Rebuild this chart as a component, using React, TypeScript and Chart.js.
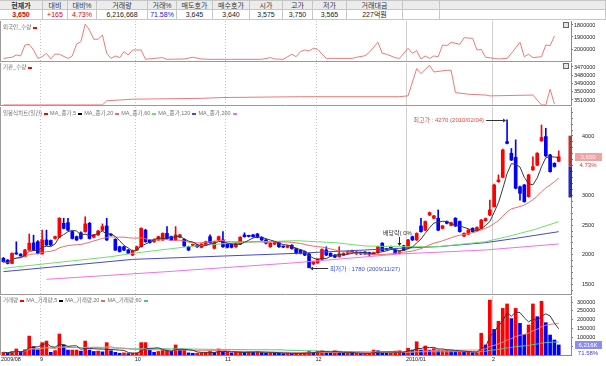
import React, { useEffect, useRef } from 'react';
import { Chart, registerables } from 'chart.js';
Chart.register(...registerables);

// ---------------- data ----------------
const opens = [1940,1910,1855,2030,2010,1970,2080,2200,2220,2015, 2250,2240,2275,2295,2530,2540,2390,2305,2370,2390, 2530,2295,2335,2415,2485,2340,2260,2135,2135,2080, 1995,2080,2135,2415,2250,2220,2250,2250,2360,2305, 2250,2295,2260,2135,2160,2165,2125,2165,2305,2110, 2250,2250,2180,2180,2135,2180,2335,2320,2335,2350, 2295,2250,2135,2180,2205,2140,2125,2160,2105,2080, 2055,2015,1845,1865,1925,2080,2025,1995,1970,1995, 2025,2035,2015,2035,2045,2035,2015,2035,2195,2095, 2135,2080,2025,2150,2110,2305,2250,2485,2415,2670, 2615,2615,2445,2560,2495,2615,2560,2315,2350,2445, 2415,2445,2575,2670,2810,3230,3305,3905,3710,3640, 3145,3175,2980,3430,3510,3920,3990,3680,3540,3575];
const highs = [1955,1920,2035,2220,2020,2090,2350,2330,2240,2415, 2415,2250,2315,2625,2615,2615,2400,2315,2385,2640, 2545,2345,2410,2520,2615,2345,2270,2145,2145,2090, 2080,2145,2455,2430,2260,2270,2315,2370,2475,2315, 2475,2345,2270,2145,2180,2175,2190,2230,2335,2230, 2315,2390,2190,2190,2205,2305,2370,2330,2345,2360, 2305,2260,2205,2215,2215,2150,2160,2170,2115,2090, 2065,2025,1895,1935,2100,2135,2035,2005,2135,2035, 2065,2080,2055,2045,2055,2045,2045,2145,2205,2105, 2145,2090,2065,2160,2260,2315,2370,2615,2570,2720, 2665,2755,2495,2570,2550,2625,2570,2370,2425,2455, 2470,2595,2620,2920,3190,3345,3780,4270,3790,3935, 3155,3185,3355,3650,3720,4185,4130,3690,3550,3750];
const lows = [1875,1845,1850,2005,1975,1965,2075,2070,2015,2010, 2155,2155,2265,2285,2435,2405,2265,2240,2265,2380, 2265,2285,2325,2405,2240,2320,2070,2045,2070,2015, 1985,2070,2130,2210,2195,2210,2240,2240,2265,2240, 2240,2285,2140,2070,2150,2125,2115,2155,2195,2100, 2240,2125,2115,2115,2125,2170,2295,2300,2295,2285, 2240,2185,2125,2170,2125,2120,2115,2095,2015,2015, 1985,1780,1835,1855,1915,1985,1970,1950,1960,1985, 2015,2025,2005,2005,2005,1990,2005,2025,2060,2080, 2100,2015,2015,2070,2100,2240,2240,2380,2405,2660, 2605,2405,2435,2520,2485,2475,2380,2305,2340,2380, 2405,2435,2565,2660,2800,3220,3295,3865,3585,3110, 2920,2885,2970,3420,3500,3910,3655,3390,3475,3565];
const closes = [1885,1855,2025,2015,1980,2080,2195,2080,2025,2250, 2165,2165,2305,2615,2445,2415,2275,2250,2275,2520, 2275,2335,2400,2475,2250,2330,2080,2055,2080,2025, 2070,2135,2445,2220,2205,2260,2305,2360,2275,2250, 2335,2335,2150,2080,2170,2135,2180,2220,2205,2220, 2305,2135,2125,2125,2195,2295,2305,2310,2305,2295, 2250,2195,2195,2205,2135,2130,2150,2105,2025,2025, 1995,1785,1885,1925,2090,1995,1980,1960,2015,2025, 2055,2070,2045,2015,2015,2000,2035,2135,2070,2090, 2110,2025,2055,2080,2250,2250,2360,2390,2560,2710, 2655,2415,2485,2530,2540,2485,2390,2360,2415,2390, 2460,2585,2610,2755,3175,3260,3765,3875,3595,3120, 3035,2895,3345,3485,3710,3975,3665,3400,3485,3650];
const volumes = [15000,12000,20000,34000,15000,30000,107000,47000,30000,70000, 79000,15000,25000,119000,57000,28000,28000,28000,22000,79000, 28000,20000,22000,18000,70000,24000,15000,10000,12000,8000, 10000,12000,70000,70000,28000,15000,20000,28000,28000,20000, 57000,28000,28000,12000,10000,10000,12000,15000,20000,15000, 34000,15000,15000,12000,15000,20000,15000,18000,15000,20000, 15000,12000,15000,12000,10000,8000,10000,8000,10000,10000, 12000,20000,15000,22000,24000,15000,12000,24000,15000,12000, 12000,10000,10000,8000,8000,10000,28000,24000,12000,10000, 12000,22000,24000,15000,38000,28000,75000,28000,51000,28000, 36000,28000,28000,28000,24000,20000,20000,17000,17000,13000, 13000,123000,57000,311000,145000,191000,264000,289000,206000,264000, 179000,117000,170000,289000,217000,304000,183000,113000,85000,57000];

// foreign net holding (index, value)
const foreignIdx = [0,2,3,4,5,6,7,8,9,10,11,12,13,15,16,17,18,19,20,21,22,23,24,25,26,27,28,29,30,32,33,35,37,38,42,44,46,48,53,60,62,63,65,67,68,69,70,71,72,73,75,77,81,82,84,85,87,88,89,91,92,94,95,96,97,98,99,100,101,102,103,104,106,107,109,110,111,112,114,115,117,118,120,121,122,123,125,126,127,128];
const foreignVal = [2078000,2069000,2050000,2058000,1967000,1961000,2008000,2078000,2064000,2036000,2083000,2042000,2044000,2078000,2058000,1958000,1939000,1792000,1842000,1919000,1919000,1883000,2036000,2078000,2058000,2072000,2022000,2050000,2008000,2008000,2086000,2078000,2072000,2086000,2083000,2069000,2083000,2086000,2086000,2086000,2072000,2083000,2086000,2044000,2064000,2022000,2008000,2017000,1994000,2003000,2078000,2078000,2078000,2069000,2056000,2028000,1944000,2036000,2044000,2072000,2078000,1994000,2036000,2014000,2083000,2058000,2078000,2058000,2064000,1967000,1972000,1944000,1961000,1906000,1911000,2008000,2003000,2069000,2078000,2083000,2078000,2036000,1944000,2064000,2044000,2072000,2064000,1967000,1972000,1892000];
// institution holding (index, value)
const instIdx = [0,23,24,30,46,51,69,92,94,96,97,99,100,103,104,105,108,112,113,123,125,126,127,128];
const instVal = [3516000,3516000,3511000,3509000,3508000,3507000,3506000,3506000,3505000,3472000,3478000,3468000,3476000,3474000,3474000,3501000,3503000,3504000,3505000,3504000,3516000,3516000,3497000,3515000];

// long moving averages (index, value)
const ma60Idx = [0,25,30,43,54,61,68,77,84,92,101,112,117,123,129];
const ma60Val = [1772,1968,2025,2137,2204,2221,2238,2204,2148,2137,2137,2221,2305,2417,2558];
const ma120Idx = [0,30,68,92,101,112,119,129];
const ma120Val = [1716,1923,2024,2109,2137,2204,2277,2389];
const ma200Idx = [10,38,68,92,112,129];
const ma200Val = [1587,1716,1867,2013,2081,2182];

const monthLabels = ['2009/08', '9', '10', '11', '12', '2010/01', '2'];
const monthStartIdx = [0, 9, 31, 52, 73, 94, 114];

const foreignTicks = [1800000, 1900000, 2000000];
const instTicks = [3470000, 3480000, 3490000, 3500000, 3510000];
const priceLabelTicks = [1500, 2000, 2500, 3000, 4000];
const volLabelTicks = [100000, 150000, 200000, 250000, 300000];

const tableHeaders = ['현재가', '대비', '대비%', '거래량', '거래%', '매도호가', '매수호가', '시가', '고가', '저가', '거래대금', '', ''];
const tableValues = ['3,650', '+165', '4.73%', '6,216,668', '71.58%', '3,645', '3,640', '3,575', '3,750', '3,565', '227억원', '', ''];

const highDate = '2010/02/04';
const lowDate = '2009/11/27';
const dividendIdx = 92;
const dividendLabel = '배당락( 0%';
const upperLimit = 4005;
const lowerLimit = 2965;
const changePct = '4.73%';
const dayVolume = 6216668;
const turnoverPct = '71.58%';

const priceLegend = ['일봉식차트(일간)', 'MA_종가,5', 'MA_종가,20', 'MA_종가,60', 'MA_종가,120', 'MA_종가,200'];
const volLegend = ['거래량', 'MA_거래량,5', 'MA_거래량,20', 'MA_거래량,60'];

// ---------------- styling ----------------
const FONT = '"Liberation Sans", "Noto Sans CJK KR", sans-serif';
const RED = '#ff0000';
const BLUE = '#0000ff';
const C_MA5 = '#3a3a3a';
const C_MA20 = '#f06a6a';
const C_MA60 = '#6ee06e';
const C_MA120 = '#4848d0';
const C_MA200 = '#f070f0';
const C_FLOW = '#f07878';
const AXIS_W = 35;
const XMIN = -0.56;
const XMAX = 131.85;
const colWidths = [43, 25, 29, 51, 29, 36, 37, 33, 30, 34, 56, 37, 166];
const valueColors = ['#e00000', '#e00000', '#e00000', '#222', '#2020e0', '#222', '#222', '#222', '#222', '#222', '#222', '#222', '#222'];

const N = closes.length;
const idxs = closes.map((_, i) => i);

function movingAvg(arr: number[], n: number) {
  return arr.map((_, i) => {
    const s = arr.slice(Math.max(0, i - n + 1), i + 1);
    return s.reduce((a, b) => a + b, 0) / s.length;
  });
}
const pts = (ix: number[], vals: number[]) => ix.map((x, k) => ({ x, y: vals[k] }));
const ser = (vals: number[]) => vals.map((y, x) => ({ x, y }));
const fmtNum = (v: number) => v.toLocaleString('en-US');

const candleColors = closes.map((c, i) => (c >= opens[i] ? RED : BLUE));
const volColors = volumes.map((v, i) => (i === 0 || v >= volumes[i - 1] ? RED : BLUE));

const framePlugin = {
  id: 'frame',
  beforeDatasetsDraw(chart: any) {
    const { ctx, chartArea: a, scales } = chart;
    const x = scales.x;
    ctx.save();
    ctx.lineWidth = 1;
    monthStartIdx.forEach((m, i) => {
      if (i === 0) return;
      const px = Math.round(x.getPixelForValue(m - 0.5)) + 0.5;
      ctx.strokeStyle = i >= 5 ? '#cfcfcf' : '#c4c4c4';
      ctx.setLineDash(i >= 5 ? [] : [1, 2]);
      ctx.beginPath();
      ctx.moveTo(px, a.top);
      ctx.lineTo(px, a.bottom);
      ctx.stroke();
    });
    ctx.restore();
  },
  afterDraw(chart: any, _args: any, opts: any) {
    const { ctx, chartArea: a } = chart;
    ctx.save();
    ctx.strokeStyle = '#9a9a9a';
    ctx.lineWidth = 1;
    ctx.beginPath();
    ctx.moveTo(0.5, a.top);
    ctx.lineTo(0.5, a.bottom);
    if (opts && opts.bottom) {
      ctx.moveTo(0, a.bottom - 0.5);
      ctx.lineTo(a.right, a.bottom - 0.5);
    }
    ctx.stroke();
    ctx.restore();
  },
};

const annotPlugin = {
  id: 'annot',
  afterDatasetsDraw(chart: any) {
    const { ctx, scales } = chart;
    const x = scales.x, y = scales.y;
    ctx.save();
    ctx.font = `6px ${FONT}`;
    ctx.textBaseline = 'middle';
    ctx.lineWidth = 1;
    // highest
    const hiVal = Math.max(...highs);
    const hi = highs.indexOf(hiVal);
    const hx = x.getPixelForValue(hi);
    const hy = Math.round(y.getPixelForValue(hiVal)) + 0.5;
    ctx.fillStyle = '#e4483c';
    ctx.textAlign = 'right';
    ctx.fillText(`최고가 : ${hiVal} (${highDate})`, hx - 23, hy);
    ctx.strokeStyle = '#333';
    ctx.beginPath(); ctx.moveTo(hx - 21, hy); ctx.lineTo(hx - 2, hy); ctx.stroke();
    ctx.fillStyle = '#333';
    ctx.beginPath(); ctx.moveTo(hx - 1, hy); ctx.lineTo(hx - 4, hy - 2); ctx.lineTo(hx - 4, hy + 2); ctx.closePath(); ctx.fill();
    // lowest
    const loVal = Math.min(...lows);
    const lo = lows.indexOf(loVal);
    const lx = x.getPixelForValue(lo);
    const ly = Math.round(y.getPixelForValue(loVal)) + 0.5;
    ctx.strokeStyle = '#333';
    ctx.beginPath(); ctx.moveTo(lx + 2, ly); ctx.lineTo(lx + 19, ly); ctx.stroke();
    ctx.fillStyle = '#333';
    ctx.beginPath(); ctx.moveTo(lx + 1, ly); ctx.lineTo(lx + 4, ly - 2); ctx.lineTo(lx + 4, ly + 2); ctx.closePath(); ctx.fill();
    ctx.fillStyle = '#3a50e6';
    ctx.textAlign = 'left';
    ctx.fillText(`최저가 : ${loVal} (${lowDate})`, lx + 21, ly + 1);
    // ex-dividend marker
    const dx = Math.round(x.getPixelForValue(dividendIdx)) + 0.5;
    const dy = y.getPixelForValue(highs[dividendIdx]);
    ctx.fillStyle = '#333';
    ctx.textAlign = 'center';
    ctx.fillText(dividendLabel, dx - 2, dy - 18);
    ctx.strokeStyle = '#223';
    ctx.beginPath(); ctx.moveTo(dx, dy - 14); ctx.lineTo(dx, dy - 7); ctx.stroke();
    ctx.fillStyle = '#223';
    ctx.beginPath(); ctx.moveTo(dx, dy - 5); ctx.lineTo(dx - 2, dy - 8); ctx.lineTo(dx + 2, dy - 8); ctx.closePath(); ctx.fill();
    ctx.restore();
  },
  afterDraw(chart: any) {
    const { ctx, chartArea: a, scales } = chart;
    const y = scales.y;
    ctx.save();
    const prev = closes[N - 2];
    const yu = y.getPixelForValue(upperLimit), yp = y.getPixelForValue(prev), yl = y.getPixelForValue(lowerLimit);
    ctx.fillStyle = '#b83838';
    ctx.fillRect(a.right - 2.5, yu, 3.5, yp - yu);
    ctx.fillStyle = '#2a2ab4';
    ctx.fillRect(a.right - 2.5, yp, 3.5, yl - yp);
    const cy = Math.round(y.getPixelForValue(closes[N - 1]));
    ctx.fillStyle = '#f3a2a2';
    ctx.fillRect(a.right + 4, cy - 4, 27, 8);
    ctx.font = `6px ${FONT}`;
    ctx.textBaseline = 'middle';
    ctx.textAlign = 'center';
    ctx.fillStyle = '#fff4f4';
    ctx.fillText(fmtNum(closes[N - 1]), a.right + 17, cy);
    ctx.fillStyle = '#e03030';
    ctx.fillText(changePct, a.right + 17, cy + 8);
    ctx.restore();
  },
};

const volBoxPlugin = {
  id: 'volbox',
  afterDraw(chart: any) {
    const { ctx, chartArea: a, scales } = chart;
    const y = scales.y;
    ctx.save();
    const cy = Math.round(y.getPixelForValue(volumes[N - 1]));
    ctx.fillStyle = '#8c8cf2';
    ctx.fillRect(a.right + 4, cy - 4, 27, 8);
    ctx.font = `6px ${FONT}`;
    ctx.textBaseline = 'middle';
    ctx.textAlign = 'center';
    ctx.fillStyle = '#ffffff';
    ctx.fillText(`${fmtNum(Math.floor(dayVolume / 1000))}K`, a.right + 17, cy);
    ctx.fillStyle = '#3838f0';
    ctx.fillText(turnoverPct, a.right + 17, cy + 8);
    ctx.restore();
  },
};

function xScale(show: boolean) {
  const base: any = {
    type: 'linear', min: XMIN, max: XMAX, display: show, offset: false,
    grid: { display: false, drawTicks: false, offset: false },
  };
  if (show) {
    Object.assign(base, {
      afterBuildTicks: (s: any) => {
        s.ticks = [XMIN, ...monthStartIdx.slice(1).map((m) => m - 0.5)].map((v) => ({ value: v }));
      },
      afterFit: (s: any) => { s.height = 11; s.paddingLeft = 0; s.paddingRight = 0; },
      ticks: {
        autoSkip: false, maxRotation: 0, minRotation: 0, align: 'start', padding: 2,
        font: { size: 5.5, family: FONT, lineHeight: 1 }, color: '#222',
        callback: (_v: any, i: number) => monthLabels[i],
      },
      border: { display: true, color: '#8a8a8a' },
    });
  }
  return base;
}

function yScale(min: number, max: number, reverse: boolean, tickVals: number[], labelVals: number[], padding: number) {
  return {
    type: 'linear', position: 'right', min, max, reverse,
    afterFit: (s: any) => { s.width = AXIS_W; s.paddingTop = 0; s.paddingBottom = 0; },
    afterBuildTicks: (s: any) => { s.ticks = tickVals.map((v) => ({ value: v })); },
    ticks: {
      autoSkip: false, padding, crossAlign: 'near',
      font: { size: 5.5, family: FONT, lineHeight: 1 }, color: '#222',
      callback: (v: any) => (labelVals.includes(v) ? String(v) : ''),
    },
    grid: { drawOnChartArea: false, drawTicks: true, tickLength: 2, tickColor: '#777', color: '#777' },
    border: { display: true, color: '#8a8a8a' },
  };
}

const baseOpts = (extra: any) => ({
  responsive: false,
  animation: false,
  events: [],
  devicePixelRatio: 1,
  plugins: { legend: { display: false }, tooltip: { enabled: false }, ...extra.plugins },
  layout: { padding: { left: 1, top: 1, right: 0, bottom: 0 } },
  scales: extra.scales,
});

function range(a: number, b: number, step: number) {
  const r: number[] = [];
  for (let v = a; v <= b; v += step) r.push(v);
  return r;
}

function Legend({ top, labels, colors }: { top: number; labels: string[]; colors: string[] }) {
  return (
    <div style={{ position: 'absolute', left: 3, top, fontSize: 5.5, lineHeight: '6px', color: '#707070', whiteSpace: 'nowrap', fontFamily: FONT }}>
      {labels.map((l, i) => (
        <span key={i}>
          {l}
          <span style={{ display: 'inline-block', width: 4, height: 2, background: colors[i], margin: '0 2px', verticalAlign: 'middle' }} />
        </span>
      ))}
    </div>
  );
}

function Table() {
  let x = 0;
  return (
    <>
      {colWidths.map((w, i) => {
        const left = x;
        x += w;
        const cell: any = {
          position: 'absolute', left, width: w, height: 10, boxSizing: 'border-box',
          borderRight: '1px solid #c6c6c6', borderBottom: '1px solid #c6c6c6',
          fontSize: 7, lineHeight: '9px', textAlign: 'center', whiteSpace: 'nowrap', overflow: 'hidden', fontFamily: FONT,
        };
        return (
          <React.Fragment key={i}>
            <div style={{ ...cell, top: 0, background: '#ececec', color: '#333', fontWeight: i === 0 ? 'bold' : 'normal', borderTop: '1px solid #c6c6c6' }}>{tableHeaders[i]}</div>
            <div style={{ ...cell, top: 10, background: '#fff', color: valueColors[i], fontWeight: i === 0 ? 'bold' : 'normal' }}>{tableValues[i]}</div>
          </React.Fragment>
        );
      })}
    </>
  );
}

export default function App() {
  const r1 = useRef<HTMLCanvasElement>(null);
  const r2 = useRef<HTMLCanvasElement>(null);
  const r3 = useRef<HTMLCanvasElement>(null);
  const r4 = useRef<HTMLCanvasElement>(null);

  useEffect(() => {
    const line = (data: any[], color: string, order: number, extra: any = {}) => ({
      type: 'line', data, borderColor: color, borderWidth: 1, pointRadius: 0, fill: false, tension: 0, order, ...extra,
    });

    const c1 = new Chart(r1.current as any, {
      type: 'line',
      data: { datasets: [line(pts(foreignIdx, foreignVal), C_FLOW, 1)] as any },
      options: baseOpts({
        plugins: { frame: { bottom: true } },
        scales: { x: xScale(false), y: yScale(1766667, 2108333, true, foreignTicks, foreignTicks, 1) },
      }) as any,
      plugins: [framePlugin],
    });

    const c2 = new Chart(r2.current as any, {
      type: 'line',
      data: { datasets: [line(pts(instIdx, instVal), C_FLOW, 1)] as any },
      options: baseOpts({
        plugins: { frame: { bottom: true } },
        scales: { x: xScale(false), y: yScale(3465152, 3517273, true, instTicks, instTicks, 1) },
      }) as any,
      plugins: [framePlugin],
    });

    const ma5 = movingAvg(closes, 5);
    const ma20 = movingAvg(closes, 20);
    const c3 = new Chart(r3.current as any, {
      type: 'bar',
      data: {
        datasets: [
          line(ser(ma5), C_MA5, 1),
          line(ser(ma20), C_MA20, 2),
          line(pts(ma60Idx, ma60Val), C_MA60, 3),
          line(pts(ma120Idx, ma120Val), C_MA120, 4),
          line(pts(ma200Idx, ma200Val), C_MA200, 5),
          {
            type: 'bar', data: idxs.map((i) => ({ x: i, y: [opens[i], closes[i]] })),
            backgroundColor: candleColors, barThickness: 3, grouped: false, minBarLength: 1, order: 10,
          },
          {
            type: 'bar', data: idxs.map((i) => ({ x: i, y: [lows[i], highs[i]] })),
            backgroundColor: candleColors, barThickness: 1, grouped: false, order: 11,
          },
        ] as any,
      },
      options: baseOpts({
        plugins: { frame: { bottom: true } },
        scales: { x: xScale(false), y: yScale(1323, 4488, false, range(1400, 4400, 100), priceLabelTicks, 9) },
      }) as any,
      plugins: [framePlugin, annotPlugin],
    });

    const v5 = movingAvg(volumes, 5);
    const v20 = movingAvg(volumes, 20);
    const v60 = movingAvg(volumes, 60);
    const c4 = new Chart(r4.current as any, {
      type: 'bar',
      data: {
        datasets: [
          line(ser(v5), C_MA5, 1),
          line(ser(v20), '#f08080', 2),
          line(ser(v60), '#52c48a', 3),
          {
            type: 'bar', data: idxs.map((i) => ({ x: i, y: volumes[i] })),
            backgroundColor: volColors, barThickness: 3, grouped: false, order: 10,
          },
        ] as any,
      },
      options: baseOpts({
        plugins: { frame: { bottom: false } },
        scales: { x: xScale(true), y: yScale(0, 334000, false, range(50000, 300000, 50000), volLabelTicks, 4) },
      }) as any,
      plugins: [framePlugin, volBoxPlugin],
    });

    return () => { c1.destroy(); c2.destroy(); c3.destroy(); c4.destroy(); };
  }, []);

  const cv = (top: number): any => ({ position: 'absolute', left: 0, top, display: 'block' });
  const icon = (top: number): any => ({ position: 'absolute', left: 563, top, width: 4, height: 4, border: '1px solid #666', background: '#e4e4e4' });

  return (
    <div style={{ position: 'fixed', left: 0, top: 0, width: 606, height: 366, background: '#fff', overflow: 'hidden', fontFamily: FONT }}>
      <Table />
      <canvas ref={r1} width={606} height={42} style={cv(20)} />
      <canvas ref={r2} width={606} height={44} style={cv(62)} />
      <canvas ref={r3} width={606} height={189} style={cv(106)} />
      <canvas ref={r4} width={606} height={71} style={cv(295)} />
      <Legend top={24} labels={['외국인_수량']} colors={[RED]} />
      <Legend top={64} labels={['기관_수량']} colors={[RED]} />
      <Legend top={110} labels={priceLegend} colors={[RED, '#000', C_MA20, C_MA60, C_MA120, C_MA200]} />
      <Legend top={297} labels={volLegend} colors={[RED, '#000', C_MA20, '#52c48a']} />
      <div style={icon(22)} />
      <div style={icon(63)} />
    </div>
  );
}
